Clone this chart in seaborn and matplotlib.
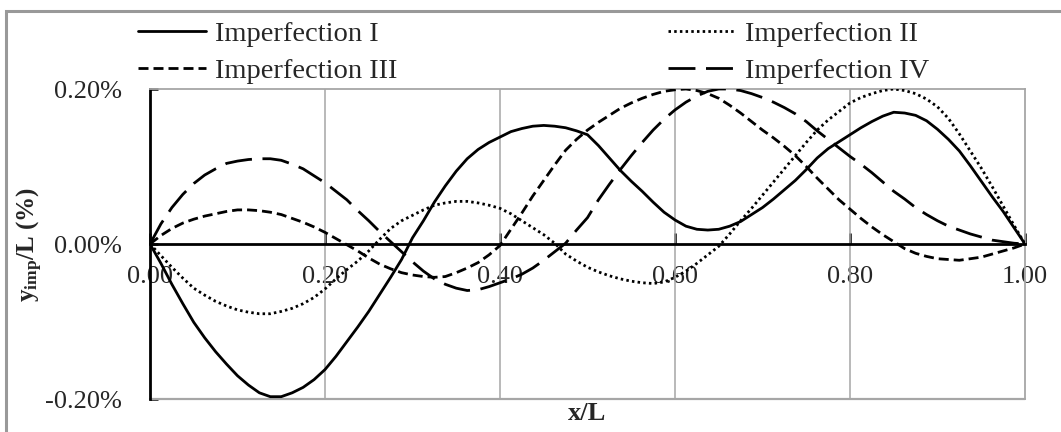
import numpy as np
import pandas as pd
import matplotlib
matplotlib.use("Agg")
import matplotlib.pyplot as plt
import seaborn as sns
from matplotlib.lines import Line2D
from matplotlib.patches import Rectangle

# Relative position along the member, x/L (step 0.0125)
x_pos = [round(0.0125 * i, 4) for i in range(81)]

# Imperfection amplitude y_imp/L in percent
imp_1 = [0.000, -0.025, -0.052, -0.077, -0.101, -0.121, -0.139, -0.155, -0.170, -0.182,
         -0.192, -0.197, -0.197, -0.192, -0.185, -0.175, -0.162, -0.145, -0.126, -0.107,
         -0.087, -0.065, -0.043, -0.020, 0.008, 0.030, 0.054, 0.075, 0.094, 0.110,
         0.122, 0.131, 0.138, 0.145, 0.149, 0.152, 0.153, 0.152, 0.150, 0.146,
         0.141, 0.127, 0.111, 0.095, 0.081, 0.068, 0.054, 0.041, 0.031, 0.023,
         0.019, 0.018, 0.019, 0.023, 0.029, 0.038, 0.047, 0.058, 0.070, 0.082,
         0.096, 0.111, 0.123, 0.132, 0.141, 0.150, 0.158, 0.165, 0.170, 0.169,
         0.166, 0.159, 0.148, 0.135, 0.120, 0.101, 0.081, 0.061, 0.042, 0.021,
         0.000]
imp_2 = [0.000, -0.015, -0.030, -0.044, -0.057, -0.066, -0.074, -0.080, -0.085, -0.088,
         -0.090, -0.090, -0.087, -0.083, -0.077, -0.069, -0.058, -0.045, -0.033, -0.022,
         -0.009, 0.006, 0.020, 0.030, 0.037, 0.044, 0.050, 0.053, 0.055, 0.055,
         0.053, 0.050, 0.046, 0.039, 0.030, 0.021, 0.012, 0.001, -0.013, -0.022,
         -0.030, -0.036, -0.041, -0.045, -0.048, -0.050, -0.051, -0.049, -0.043, -0.035,
         -0.025, -0.014, -0.003, 0.013, 0.030, 0.046, 0.063, 0.080, 0.097, 0.114,
         0.131, 0.147, 0.160, 0.171, 0.182, 0.189, 0.194, 0.198, 0.200, 0.198,
         0.194, 0.187, 0.177, 0.162, 0.142, 0.120, 0.098, 0.074, 0.049, 0.024,
         0.000]
imp_3 = [0.000, 0.011, 0.020, 0.027, 0.032, 0.036, 0.039, 0.042, 0.044, 0.044,
         0.043, 0.041, 0.038, 0.033, 0.028, 0.022, 0.015, 0.007, -0.001, -0.009,
         -0.018, -0.026, -0.032, -0.037, -0.040, -0.042, -0.043, -0.042, -0.037, -0.031,
         -0.024, -0.014, -0.002, 0.019, 0.040, 0.062, 0.082, 0.102, 0.121, 0.135,
         0.147, 0.157, 0.166, 0.175, 0.182, 0.188, 0.193, 0.197, 0.199, 0.200,
         0.198, 0.194, 0.188, 0.179, 0.169, 0.158, 0.147, 0.137, 0.126, 0.114,
         0.100, 0.085, 0.071, 0.057, 0.045, 0.033, 0.022, 0.012, 0.003, -0.006,
         -0.012, -0.016, -0.019, -0.020, -0.021, -0.019, -0.017, -0.013, -0.009, -0.005,
         0.000]
imp_4 = [0.000, 0.026, 0.047, 0.064, 0.078, 0.089, 0.097, 0.104, 0.107, 0.109,
         0.110, 0.110, 0.108, 0.103, 0.097, 0.088, 0.079, 0.068, 0.057, 0.043,
         0.030, 0.016, 0.003, -0.010, -0.023, -0.035, -0.045, -0.052, -0.057, -0.060,
         -0.059, -0.055, -0.050, -0.045, -0.039, -0.031, -0.021, -0.010, 0.001, 0.018,
         0.034, 0.057, 0.077, 0.096, 0.114, 0.131, 0.147, 0.161, 0.173, 0.183,
         0.191, 0.197, 0.200, 0.200, 0.198, 0.194, 0.189, 0.183, 0.176, 0.168,
         0.158, 0.146, 0.135, 0.124, 0.113, 0.103, 0.092, 0.080, 0.068, 0.058,
         0.047, 0.038, 0.030, 0.023, 0.018, 0.013, 0.009, 0.005, 0.003, 0.001,
         0.000]

series_names = ["Imperfection I", "Imperfection II", "Imperfection III", "Imperfection IV"]
x_ticks = [0.0, 0.2, 0.4, 0.6, 0.8, 1.0]
x_tick_labels = ["0.00", "0.20", "0.40", "0.60", "0.80", "1.00"]
y_ticks = [-0.2, 0.0, 0.2]
y_tick_labels = ["-0.20%", "0.00%", "0.20%"]

sns.set_theme(style="white")
plt.rcParams["font.family"] = ["Liberation Serif", "DejaVu Serif"]
plt.rcParams["mathtext.fontset"] = "custom"
plt.rcParams["mathtext.rm"] = "Liberation Serif:bold"
plt.rcParams["mathtext.bf"] = "Liberation Serif:bold"
plt.rcParams["mathtext.it"] = "Liberation Serif:bold"

df = pd.DataFrame({
    "x": x_pos * 4,
    "y": imp_1 + imp_2 + imp_3 + imp_4,
    "series": np.repeat(series_names, len(x_pos)),
})

W, H = 1061, 432
fig = plt.figure(figsize=(W / 100, H / 100), dpi=100)
ax = fig.add_axes([150 / W, 1 - 399 / H, 875 / W, 310 / H])

# outer chart frame
fig.patches.append(Rectangle((6 / W, -0.05), 1.1, 1 - 11 / H + 0.05,
                             transform=fig.transFigure, fill=False,
                             edgecolor="#999999", lw=2.2, zorder=0))

lw = 2.0
styles = {
    "Imperfection I": "-",
    "Imperfection II": (0, (0.9, 1.15)),
    "Imperfection III": (0, (3.6, 1.8)),
    "Imperfection IV": (0, (9.7, 3.8)),
}
handles = {}
for name in series_names:
    sub = df[df["series"] == name]
    sns.lineplot(data=sub, x="x", y="y", ax=ax, color="black", lw=lw,
                 linestyle=styles[name], errorbar=None, sort=True, zorder=4,
                 solid_joinstyle="round")
    handles[name] = Line2D([], [], color="black", lw=lw, linestyle=styles[name])

ax.set_xlim(0, 1)
ax.set_ylim(-0.2, 0.2)

# plot-area border and vertical grid
for side in ["top", "right"]:
    ax.spines[side].set_color("#a6a6a6")
    ax.spines[side].set_linewidth(1.3)
ax.spines["left"].set_color("black")
ax.spines["left"].set_linewidth(2.0)
ax.spines["bottom"].set_position(("data", 0))
ax.spines["bottom"].set_color("black")
ax.spines["bottom"].set_linewidth(2.0)
ax.spines["bottom"].set_zorder(3)
ax.axhline(-0.2, color="#a6a6a6", lw=1.6, zorder=1, clip_on=False)
for xv in x_ticks[1:-1]:
    ax.axvline(xv, color="#a6a6a6", lw=1.1, zorder=1)

ax.set_xticks(x_ticks)
ax.set_xticklabels(x_tick_labels)
ax.set_yticks(y_ticks)
ax.set_yticklabels(y_tick_labels)
ax.tick_params(axis="x", direction="in", length=8, width=1.8, color="black",
               labelsize=19, pad=16, bottom=True)
ax.tick_params(axis="y", direction="in", length=6, width=1.8, color="black",
               labelsize=19, pad=20, left=True)
ax.set_xlabel("")
ax.set_ylabel("")
ax.grid(False)

fig.text(587 / W, 1 - 414 / H, "x/L", ha="center", va="center",
         fontsize=19, fontweight="bold")
fig.text(30 / W, 1 - 245 / H, r"$\mathbf{y_{imp}}$/L (%)", ha="center",
         va="center", rotation=90, fontsize=18, fontweight="bold")

leg_kw = dict(frameon=False, fontsize=20.5, handlelength=2.4, handletextpad=0.3,
              labelspacing=0.4, borderpad=0, borderaxespad=0, loc="upper left")
leg1 = fig.legend([handles["Imperfection I"], handles["Imperfection III"]],
                  ["Imperfection I", "Imperfection III"],
                  bbox_to_anchor=(138 / W, 1 - 21 / H), **leg_kw)
leg2 = fig.legend([handles["Imperfection II"], handles["Imperfection IV"]],
                  ["Imperfection II", "Imperfection IV"],
                  bbox_to_anchor=(668 / W, 1 - 21 / H), **leg_kw)

fig.savefig("out.png", dpi=100)
